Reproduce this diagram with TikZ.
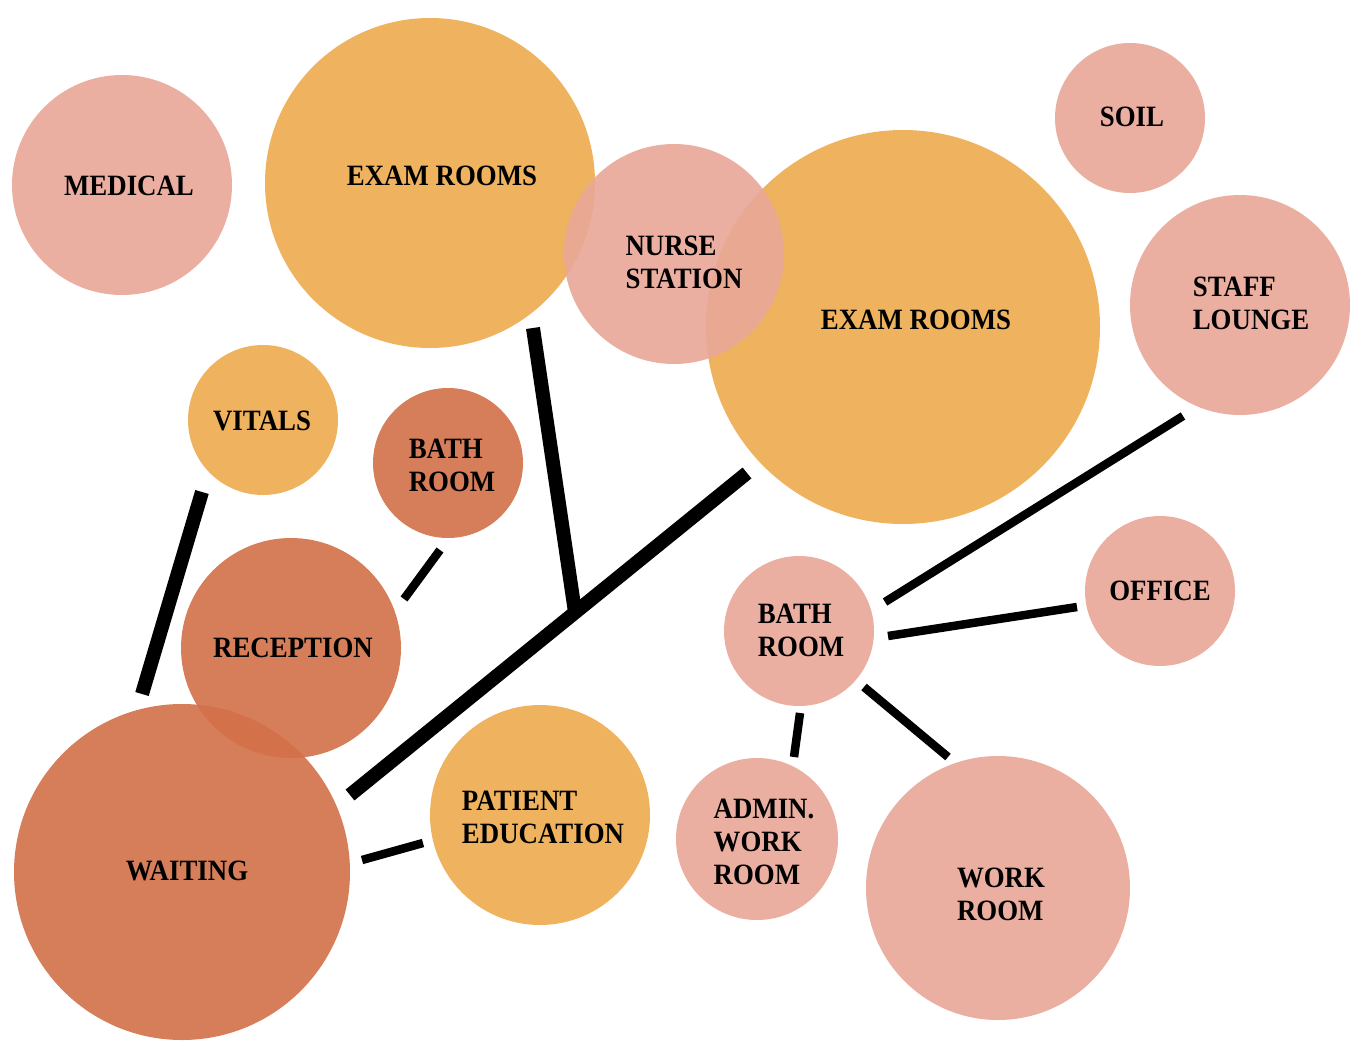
\documentclass[tikz,border=0pt]{standalone}
\usepackage{fontspec}
\setmainfont{Liberation Serif}[FakeStretch=0.91]
\begin{document}
\begin{tikzpicture}[x=1pt,y=-1pt,
  bub/.style={circle,inner sep=0pt,draw=none,fill opacity=0.9,minimum size=#1},
  pinkb/.style={bub=#1,fill=cpink},
  orangeb/.style={bub=#1,fill=corange},
  darkb/.style={bub=#1,fill=cdark},
  lbl/.style={font=\fontsize{29.5}{33}\selectfont\bfseries,align=left,inner sep=0pt,text=black},
  thick line/.style={line width=14pt,black},
  thin line/.style={line width=8.5pt,black}]
\definecolor{cpink}{HTML}{E8A797}
\definecolor{corange}{HTML}{EEAA4D}
\definecolor{cdark}{HTML}{D27049}
\useasboundingbox[fill=white] (0,0) rectangle (1363,1052);
% circles
\node[pinkb=220pt] (med) at (122,185) {};
\node[orangeb=330pt] (examL) at (430,183) {};
\node[orangeb=394pt] (examR) at (903,327) {};
\node[pinkb=220pt] (nurse) at (674,254) {};
\node[pinkb=150pt] (soil) at (1130,118) {};
\node[pinkb=220pt] (staff) at (1240,305) {};
\node[orangeb=150pt] (vitals) at (263,420) {};
\node[darkb=150pt] (bathD) at (448,463) {};
\node[darkb=336pt] (wait) at (182,872) {};
\node[darkb=220pt] (recep) at (291,648) {};
\node[orangeb=220pt] (pated) at (540,815) {};
\node[pinkb=150pt] (bathP) at (799,631) {};
\node[pinkb=150pt] (office) at (1160,591) {};
\node[pinkb=162pt] (admin) at (757,839) {};
\node[pinkb=264pt] (work) at (998,888) {};
% labels
\node[lbl] (tmed) at (129,186) {MEDICAL};
\node[lbl] (texamL) at (442,176) {EXAM ROOMS};
\node[lbl] (tnurse) at (684,262) {NURSE\\STATION};
\node[lbl] (texamR) at (916,320) {EXAM ROOMS};
\node[lbl] (tsoil) at (1132,117) {SOIL};
\node[lbl] (tstaff) at (1251,303) {STAFF\\LOUNGE};
\node[lbl] (tvitals) at (262,421) {VITALS};
\node[lbl] (tbathD) at (452,465) {BATH\\ROOM};
\node[lbl] (trecep) at (293,648) {RECEPTION};
\node[lbl] (twait) at (187,871) {WAITING};
\node[lbl] (tpated) at (543,817) {PATIENT\\EDUCATION};
\node[lbl] (tbathP) at (801,630) {BATH\\ROOM};
\node[lbl] (toffice) at (1160,591) {OFFICE};
\node[lbl] (tadmin) at (764,842) {ADMIN.\\WORK\\ROOM};
\node[lbl] (twork) at (1001,894) {WORK\\ROOM};
% connector end points
\coordinate (v1) at (202,492);
\coordinate (v2) at (142,694);
\coordinate (b1) at (440,550);
\coordinate (b2) at (404,599);
\coordinate (e1) at (533,328);
\coordinate (e2) at (575,612);
\coordinate (d1) at (747,473);
\coordinate (d2) at (350,795);
\coordinate (p1) at (362,860);
\coordinate (p2) at (423,843);
\coordinate (s1) at (1183,416);
\coordinate (s2) at (885,602);
\coordinate (o1) at (888,636);
\coordinate (o2) at (1077,607);
\coordinate (a1) at (800,713);
\coordinate (a2) at (794,757);
\coordinate (w1) at (864,687);
\coordinate (w2) at (948,757);
% connectors
\draw[thick line] (v1) -- (v2);
\draw[thin line] (b1) -- (b2);
\draw[thick line] (e1) -- (e2);
\draw[thick line] (d1) -- (d2);
\draw[thin line] (p1) -- (p2);
\draw[thin line] (s1) -- (s2);
\draw[thin line] (o1) -- (o2);
\draw[thin line] (a1) -- (a2);
\draw[thin line] (w1) -- (w2);
\end{tikzpicture}
\end{document}
